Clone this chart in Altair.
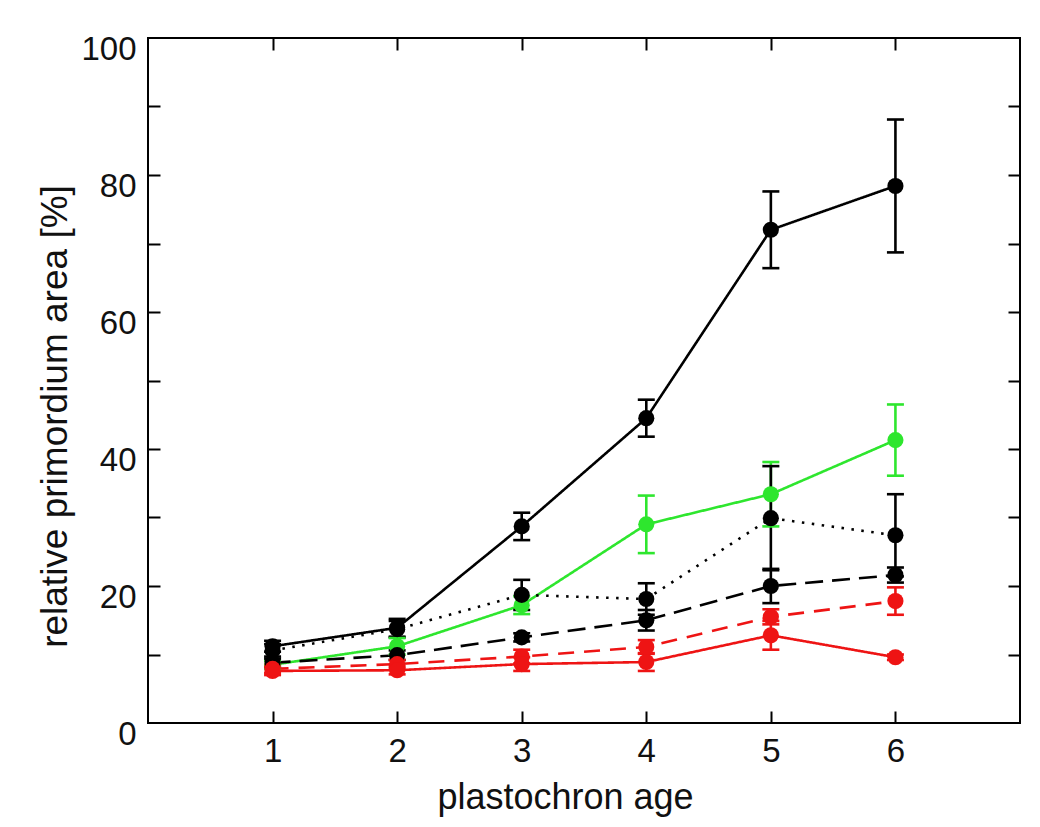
import altair as alt
import pandas as pd

ages = [1, 2, 3, 4, 5, 6]
series_names = ["black solid", "green solid", "black dotted", "black dashed", "red dashed", "red solid"]
series_colors = ["#000000", "#2ee62e", "#000000", "#000000", "#ee1414", "#ee1414"]
series_dashes = [[1, 0], [1, 0], [2.5, 7.5], [18, 9], [16, 10], [1, 0]]

black_solid = [11.2, 13.9, 28.7, 44.5, 72.0, 78.4]
black_solid_err = [0.8, 1.3, 2.0, 2.7, 5.6, 9.7]
green_solid = [8.5, 11.2, 17.2, 29.0, 33.4, 41.3]
green_solid_err = [0.6, 1.2, 1.3, 4.2, 4.7, 5.2]
black_dotted = [10.6, 13.7, 18.7, 18.1, 29.9, 27.4]
black_dotted_err = [0.9, 1.2, 2.2, 2.3, 7.6, 6.0]
black_dashed = [8.8, 9.9, 12.5, 15.0, 20.0, 21.6]
black_dashed_err = [0.6, 0.7, 0.6, 1.5, 2.5, 1.1]
red_dashed = [7.9, 8.6, 9.7, 11.1, 15.5, 17.8]
red_dashed_err = [0.6, 0.6, 1.0, 1.0, 1.1, 2.0]
red_solid = [7.6, 7.7, 8.6, 8.9, 12.8, 9.6]
red_solid_err = [0.6, 0.6, 1.0, 1.3, 2.1, 0.4]

values = [black_solid, green_solid, black_dotted, black_dashed, red_dashed, red_solid]
errors = [black_solid_err, green_solid_err, black_dotted_err, black_dashed_err, red_dashed_err, red_solid_err]

rows = []
for i, (name, vals, errs) in enumerate(zip(series_names, values, errors)):
    for a, v, e in zip(ages, vals, errs):
        rows.append({"series": name, "order": i, "age": a, "value": v, "lo": v - e, "hi": v + e})
df = pd.DataFrame(rows)

W, H = 872, 685
FONT = "Liberation Sans"

xscale = alt.Scale(domain=[0, 7], nice=False, zero=False)
yscale = alt.Scale(domain=[0, 100], nice=False)
color = alt.Color("series:N", scale=alt.Scale(domain=series_names, range=series_colors), legend=None)
dash = alt.StrokeDash("series:N", scale=alt.Scale(domain=series_names, range=series_dashes), legend=None)

x_main = alt.X("age:Q", scale=xscale, axis=alt.Axis(
    values=ages, format="d", ticks=False, domain=False, grid=False, labelFontSize=33, labelFont=FONT,
    labelColor="#111", labelPadding=12, title="plastochron age", titleFontSize=36,
    titleFont=FONT, titleFontWeight="normal", titleColor="#111", titlePadding=12, titleX=417))
y_main = alt.Y("value:Q", scale=yscale, axis=alt.Axis(
    values=[0, 20, 40, 60, 80, 100], ticks=False, domain=False, grid=False, labelFontSize=33,
    labelFont=FONT, labelColor="#111", labelPadding=12, labelOffset=11,
    title="relative primordium area [%]", titleFontSize=37, titleFont=FONT,
    titleFontWeight="normal", titleColor="#111", titleX=-82, titleY=378,
    titleBaseline="alphabetic", titleAlign="center", titleAngle=270))

base = alt.Chart(df)

lines = base.mark_line(strokeWidth=2.6).encode(
    x=x_main, y=y_main, color=color, strokeDash=dash, detail="series:N", order="age:Q")
stems = base.mark_rule(strokeWidth=2.6).encode(
    x="age:Q", y="lo:Q", y2="hi:Q", color=color)
caps_lo = base.mark_tick(orient="horizontal", size=17, thickness=2.6, opacity=1).encode(
    x="age:Q", y="lo:Q", color=color)
caps_hi = base.mark_tick(orient="horizontal", size=17, thickness=2.6, opacity=1).encode(
    x="age:Q", y="hi:Q", color=color)
points = base.mark_circle(size=260, opacity=1).encode(
    x="age:Q", y="value:Q", color=color, order="order:Q")

data_layer = alt.layer(lines, stems, caps_lo, caps_hi, points)

tick_axis = dict(ticks=True, tickSize=12, tickWidth=2, tickColor="black",
                 labels=False, domain=False, grid=False, title="")

inner_a = base.mark_point(opacity=0).encode(
    x=alt.X("age:Q", scale=xscale, axis=alt.Axis(orient="top", offset=-H, values=ages, **tick_axis)),
    y=alt.Y("value:Q", scale=yscale, axis=alt.Axis(orient="right", offset=-W,
            values=[10, 20, 30, 40, 50, 60, 70, 80, 90], **tick_axis)),
)
inner_b = base.mark_point(opacity=0).encode(
    x=alt.X("age:Q", scale=xscale, axis=alt.Axis(orient="bottom", offset=-H, values=ages, **tick_axis)),
    y=alt.Y("value:Q", scale=yscale, axis=alt.Axis(orient="left", offset=-W,
            values=[10, 20, 30, 40, 50, 60, 70, 80, 90], **tick_axis)),
)

chart = alt.layer(data_layer, inner_a, inner_b).resolve_axis(
    x="independent", y="independent"
).properties(
    width=W, height=H,
    autosize=alt.AutoSizeParams(type="none"),
    padding={"left": 140, "top": 30, "right": 12, "bottom": 96},
    background="white",
).configure_view(stroke="black", strokeWidth=2)

chart.save("out.html", embed_options={"renderer": "svg", "actions": False})
